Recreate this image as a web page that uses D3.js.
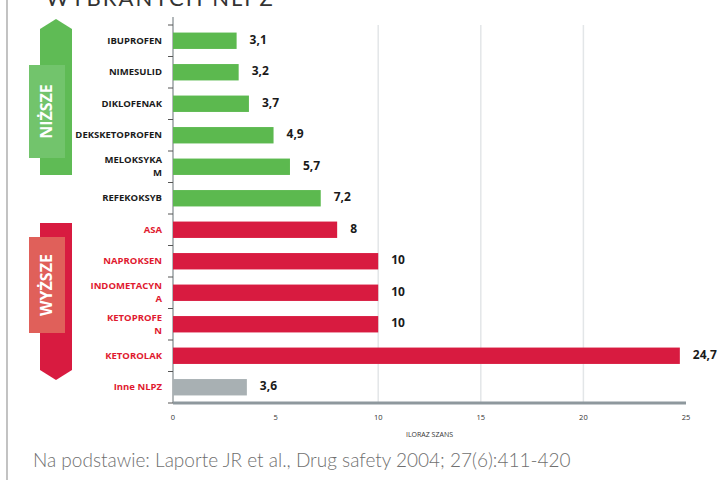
<!DOCTYPE html>
<html>
<head>
<meta charset="utf-8">
<script src="https://cdn.jsdelivr.net/npm/d3@7"></script>
<style>
  body { margin: 0; background: #fff; }
  text { font-family: "Open Sans", sans-serif; }
</style>
</head>
<body>
<div id="chart"></div>
<script>
// data
const categories = ["IBUPROFEN", "NIMESULID", "DIKLOFENAK", "DEKSKETOPROFEN", "MELOKSYKA\nM", "REFEKOKSYB",
    "ASA", "NAPROKSEN", "INDOMETACYN\nA", "KETOPROFE\nN", "KETOROLAK", "Inne NLPZ"]
const values = [3.1, 3.2, 3.7, 4.9, 5.7, 7.2, 8, 10, 10, 10, 24.7, 3.6]
const groups = ["low", "low", "low", "low", "low", "low", "high", "high", "high", "high", "high", "other"]
const valueLabels = ["3,1", "3,2", "3,7", "4,9", "5,7", "7,2", "8", "10", "10", "10", "24,7", "3,6"]
const xTicks = [0, 5, 10, 15, 20, 25]
const gridTicks = [10, 15, 20]

const green = "#5cb94f", red = "#d81b40", gray = "#a8b0b3"
const barColor = {low: green, high: red, other: gray}
const labelColor = {low: "#1a1a1a", high: "#e0192f", other: "#e0192f"}

var width = 728, height = 480
var margin = {top: 25, left: 173, right: 42, bottom: 77}

var svg = d3.select("#chart")
    .append("svg")
    .attr("width", width)
    .attr("height", height)

// page frame line on the left
svg.append("line")
    .attr("x1", 7).attr("x2", 7).attr("y1", 0).attr("y2", height)
    .style("stroke", "#9a9a9a").style("stroke-width", 1.2)

// heading, cut off at the top edge like in the source
svg.append("text")
    .attr("x", 46).attr("y", 6)
    .text("WYBRANYCH NLPZ")
    .style("font-family", "Lato, sans-serif")
    .style("font-size", "22px")
    .style("letter-spacing", "2px")
    .style("fill", "#333")

var x = d3.scaleLinear()
    .domain([0, 25])
    .range([margin.left, width - margin.right])

var y = d3.scaleBand()
    .domain(d3.range(categories.length))
    .range([margin.top, height - margin.bottom])
    .paddingInner(0.48)
    .paddingOuter(0.24)

var chart_bottom = height - margin.bottom

// grid
svg.selectAll(".grid")
    .data(gridTicks)
    .enter()
    .append("line")
    .attr("class", "grid")
    .attr("x1", d => x(d)).attr("x2", d => x(d))
    .attr("y1", margin.top).attr("y2", chart_bottom)
    .style("stroke", "#e3e6e8").style("stroke-width", 1.5)

// y axis with ticks between categories
svg.append("line")
    .attr("x1", x(0)).attr("x2", x(0))
    .attr("y1", margin.top - 8).attr("y2", chart_bottom)
    .style("stroke", "#9aa0a3").style("stroke-width", 1.5)

var step = y.step()
svg.selectAll(".ytick")
    .data(d3.range(categories.length + 1))
    .enter()
    .append("line")
    .attr("class", "ytick")
    .attr("x1", x(0) - 5).attr("x2", x(0))
    .attr("y1", i => y(0) - step * y.paddingInner() / 2 + i * step)
    .attr("y2", i => y(0) - step * y.paddingInner() / 2 + i * step)
    .style("stroke", "#555").style("stroke-width", 1)

// bars
svg.selectAll(".bar")
    .data(values)
    .enter()
    .append("rect")
    .attr("class", "bar")
    .attr("x", x(0))
    .attr("y", (d, i) => y(i))
    .attr("width", d => x(d) - x(0))
    .attr("height", y.bandwidth())
    .style("fill", (d, i) => barColor[groups[i]])

// value labels
svg.selectAll(".val")
    .data(values)
    .enter()
    .append("text")
    .attr("class", "val")
    .attr("x", d => x(d) + 13)
    .attr("y", (d, i) => y(i) + y.bandwidth() / 2)
    .attr("dominant-baseline", "middle")
    .text((d, i) => valueLabels[i])
    .style("font-size", "12px")
    .style("font-weight", "bold")
    .style("fill", "#1a1a1a")

// category labels (some wrap onto two lines)
categories.forEach(function (c, i) {
    var lines = c.split("\n")
    var t = svg.append("text")
        .attr("text-anchor", "end")
        .attr("x", 162)
        .attr("y", y(i) + y.bandwidth() / 2 - (lines.length - 1) * 6.5)
        .attr("dominant-baseline", "middle")
        .style("font-size", "9.5px")
        .style("font-weight", "bold")
        .style("fill", labelColor[groups[i]])
    lines.forEach(function (l, j) {
        t.append("tspan").attr("x", 162).attr("dy", j == 0 ? 0 : 13).text(l)
    })
})

// x axis base
svg.append("line")
    .attr("x1", x(0)).attr("x2", x(25))
    .attr("y1", chart_bottom).attr("y2", chart_bottom)
    .style("stroke", "#8e989d").style("stroke-width", 3)

svg.selectAll(".xtl")
    .data(xTicks)
    .enter()
    .append("text")
    .attr("class", "xtl")
    .attr("x", d => x(d))
    .attr("y", chart_bottom + 17)
    .attr("text-anchor", "middle")
    .text(d => d)
    .style("font-size", "7.5px")
    .style("fill", "#333")

svg.append("text")
    .attr("x", (x(0) + x(25)) / 2)
    .attr("y", chart_bottom + 34)
    .attr("text-anchor", "middle")
    .text("ILORAZ SZANS")
    .style("font-size", "7px")
    .style("fill", "#333")

// side arrows
function arrow(topY, bottomY, boxTop, boxBottom, up, dark, light, label) {
    var x0 = 40, x1 = 72, xm = (x0 + x1) / 2, head = 10
    var pts
    if (up) {
        pts = [[xm, topY], [x1, topY + head], [x1, bottomY], [x0, bottomY], [x0, topY + head]]
    } else {
        pts = [[x0, topY], [x1, topY], [x1, bottomY - head], [xm, bottomY], [x0, bottomY - head]]
    }
    svg.append("path")
        .attr("d", d3.line()(pts) + "Z")
        .style("fill", dark)
    svg.append("rect")
        .attr("x", 29).attr("y", boxTop)
        .attr("width", 36).attr("height", boxBottom - boxTop)
        .style("fill", light)
    var cy = (boxTop + boxBottom) / 2
    svg.append("text")
        .attr("transform", "translate(" + 48 + "," + cy + ") rotate(-90)")
        .attr("text-anchor", "middle")
        .attr("dominant-baseline", "middle")
        .text(label)
        .style("font-size", "16px")
        .style("font-weight", "bold")
        .style("fill", "#fff")
}

arrow(19, 175, 65, 158, true, "#5fbb55", "#72c46c", "NIŻSZE")
arrow(223, 380, 237, 333, false, "#d81b40", "#e0605a", "WYŻSZE")

// source
svg.append("text")
    .attr("x", 33).attr("y", 467)
    .text("Na podstawie: Laporte JR et al., Drug safety 2004; 27(6):411-420")
    .style("font-family", "Lato, sans-serif")
    .style("font-weight", 300)
    .style("font-size", "19px")
    .style("fill", "#6f6f6f")
</script>
</body>
</html>
